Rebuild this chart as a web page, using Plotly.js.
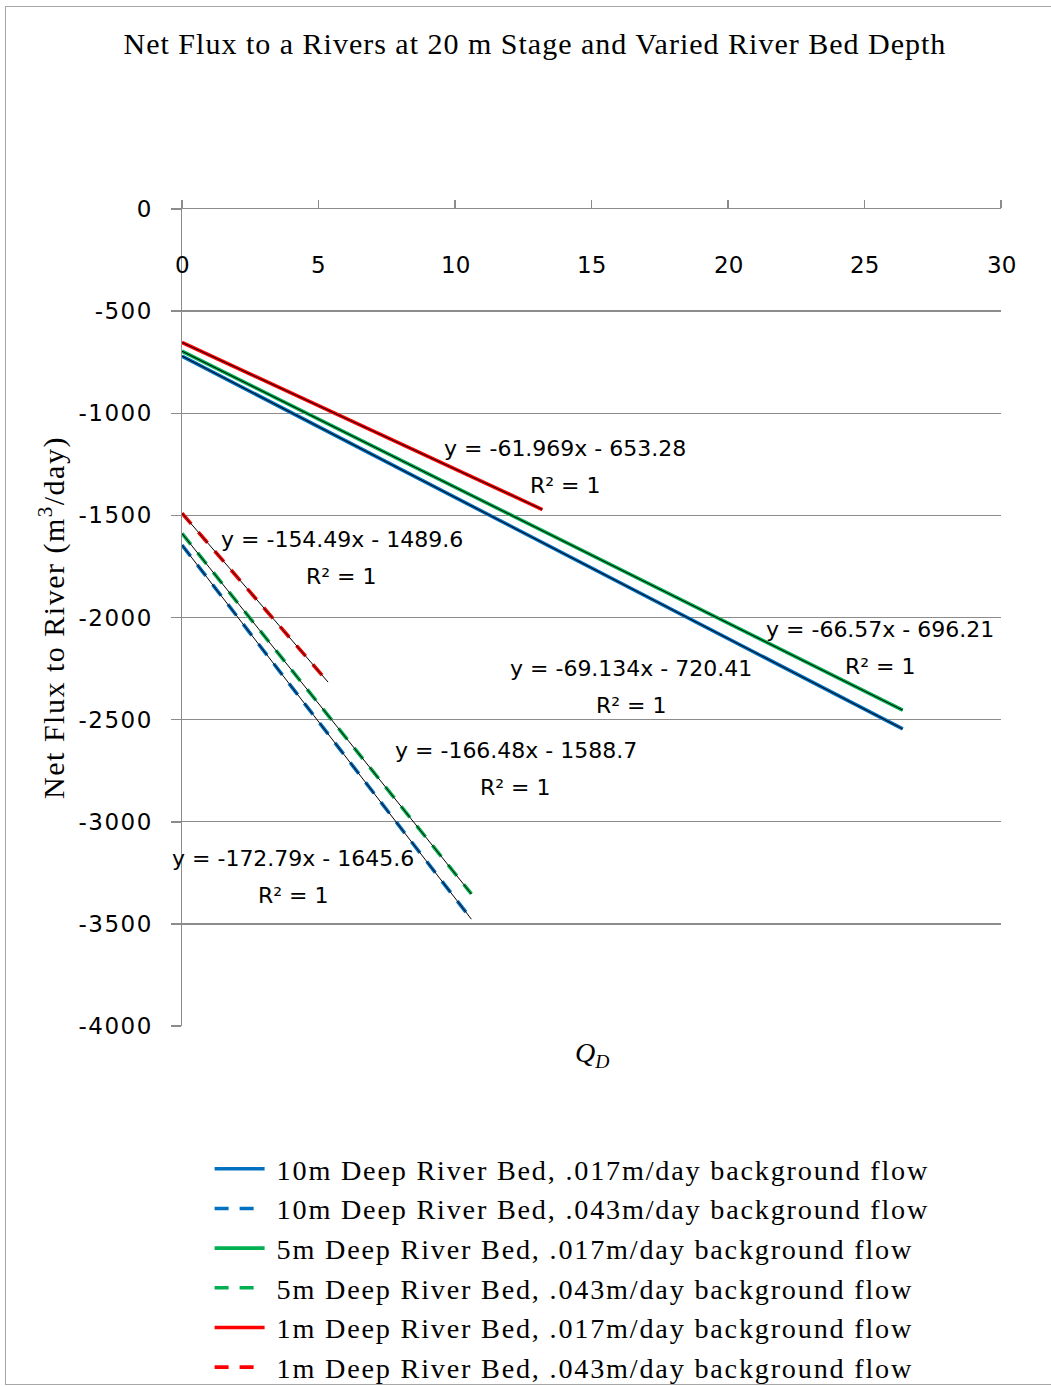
<!DOCTYPE html>
<html>
<head>
<meta charset="utf-8">
<script src="https://cdn.plot.ly/plotly-3.0.1.min.js"></script>
<style>
  html, body { margin: 0; padding: 0; background: #ffffff; }
  #wrap { position: relative; width: 1051px; height: 1387px; overflow: hidden; }
  #frame { position: absolute; left: 5px; top: 6px; width: 1100px; height: 1379px;
           border: 1.5px solid #a6a6a6; box-sizing: border-box; pointer-events: none; }
  #chart { position: absolute; left: 0; top: 0; width: 1051px; height: 1430px; }
  /* wider set text, like the spreadsheet rendering */
  #chart .gtitle { letter-spacing: 1px; }
  #chart .ytitle { letter-spacing: 1.5px; }
  #chart .legendtext { letter-spacing: 1.8px; transform: translateX(7px); }
  #chart .legend .scrollbox { clip-path: none !important; }
  #chart .ytick text { letter-spacing: 1.5px; }
</style>
</head>
<body>
<div id="wrap">
  <div id="chart"></div>
  <div id="frame"></div>
</div>
<script>
// Series names (legend order)
const seriesNames = [
  "10m Deep River Bed, .017m/day background flow",
  "10m Deep River Bed, .043m/day background flow",
  "5m Deep River Bed, .017m/day background flow",
  "5m Deep River Bed, .043m/day background flow",
  "1m Deep River Bed, .017m/day background flow",
  "1m Deep River Bed, .043m/day background flow"
];

// Q_D values (x) for each series
const x10m017 = [0, 26.4];
const x10m043 = [0, 10.6];
const x5m017  = [0, 26.4];
const x5m043  = [0, 10.6];
const x1m017  = [0, 13.2];
const x1m043  = [0, 5.35];

// Net flux to river (m3/day) for each series
const y10m017 = [-720.4, -2545.5];
const y10m043 = [-1645.6, -3477.2];
const y5m017  = [-696.2, -2453.6];
const y5m043  = [-1588.7, -3353.4];
const y1m017  = [-653.3, -1471.3];
const y1m043  = [-1489.6, -2316.2];

// Linear trendline coefficients: y = slope * x + intercept
const trendSlope     = [-69.134, -172.79, -66.57, -166.48, -61.969, -154.49];
const trendIntercept = [-720.41, -1645.6, -696.21, -1588.7, -653.28, -1489.6];

// Tick values and labels
const xTicks = [0, 5, 10, 15, 20, 25, 30];
const yTicks = [0, -500, -1000, -1500, -2000, -2500, -3000, -3500, -4000];
const yTickText = ["0", "-500", "-1000", "-1500", "-2000", "-2500", "-3000", "-3500", "-4000"];

const xs = [x10m017, x10m043, x5m017, x5m043, x1m017, x1m043];
const ys = [y10m017, y10m043, y5m017, y5m043, y1m017, y1m043];
const colors = ["#0070C0", "#0070C0", "#00B050", "#00B050", "#FF0000", "#FF0000"];
const dashes = ["solid", "14px,11px", "solid", "14px,11px", "solid", "14px,11px"];

// Equation label anchors (data coords) for each trendline
const labelPos = [
  [16.45, -2252], [4.07, -3178], [25.57, -2061],
  [12.23, -2653], [14.03, -1175], [5.86, -1616]
];

const traces = [];
for (let i = 0; i < seriesNames.length; i++) {
  traces.push({
    type: "scatter", mode: "lines",
    x: xs[i], y: ys[i], name: seriesNames[i],
    line: { color: colors[i], width: 3.6, dash: dashes[i] },
    hoverinfo: "skip"
  });
}
// Thin black trendlines drawn over each series
for (let i = 0; i < seriesNames.length; i++) {
  const xr = [Math.min(...xs[i]), Math.max(...xs[i])];
  traces.push({
    type: "scatter", mode: "lines",
    x: xr, y: xr.map(v => trendSlope[i] * v + trendIntercept[i]),
    showlegend: false,
    line: { color: "#000000", width: 1 },
    hoverinfo: "skip"
  });
}

function fmtEq(m, b) {
  const sb = b < 0 ? " - " + Math.abs(b) : " + " + b;
  return "y = " + m + "x" + sb;
}

const eqFont = { family: "DejaVu Sans", size: 22, color: "#000000" };
const tickFont = { family: "DejaVu Sans", size: 23, color: "#000000" };
const annotations = [];
labelPos.forEach((p, i) => {
  annotations.push({
    x: p[0], y: p[1], xref: "x", yref: "y",
    text: fmtEq(trendSlope[i], trendIntercept[i]),
    showarrow: false, font: eqFont
  });
  annotations.push({
    x: p[0], y: p[1], xref: "x", yref: "y", yshift: -37,
    text: "R² = 1", showarrow: false, font: eqFont
  });
});

// Q_D tick labels, set just below the axis line at the top of the plot
xTicks.forEach(v => {
  annotations.push({
    x: v, xref: "x", y: 0.9315, yref: "paper", yanchor: "middle",
    text: String(v), showarrow: false, font: tickFont
  });
});

// Horizontal axis title
annotations.push({
  xref: "paper", yref: "paper", x: 0.5, y: -0.035, yanchor: "middle",
  text: "<i>Q</i><sub><i>D</i></sub>", showarrow: false,
  font: { family: "Liberation Serif", size: 28, color: "#000000" }
});

const axisGrey = "#8c8c8c";

const layout = {
  width: 1051, height: 1430,
  margin: { l: 182, r: 50, t: 209, b: 404 },
  paper_bgcolor: "rgba(0,0,0,0)", plot_bgcolor: "#ffffff",
  showlegend: true,
  title: {
    text: "Net Flux to a Rivers at 20 m Stage and Varied River Bed Depth",
    xref: "container", x: 0.509, xanchor: "center",
    yref: "container", y: 1 - 43 / 1430, yanchor: "middle",
    font: { family: "Liberation Serif", size: 30, color: "#000000" }
  },
  // axis line and tick marks along Net Flux = 0
  xaxis: {
    range: [0, 30], side: "top", tickvals: xTicks, showticklabels: false,
    ticks: "outside", ticklen: 8, tickwidth: 1.5, tickcolor: axisGrey,
    showline: true, linecolor: axisGrey, linewidth: 1.5,
    showgrid: false, zeroline: false
  },
  yaxis: {
    range: [-4000, 0], tickvals: yTicks, ticktext: yTickText,
    ticks: "outside", ticklen: 10, tickwidth: 1.5, tickcolor: axisGrey,
    ticklabelstandoff: 13,
    showline: true, linecolor: axisGrey, linewidth: 1.5,
    showgrid: true, gridcolor: axisGrey, gridwidth: 1.3, zeroline: false,
    tickfont: tickFont,
    title: {
      text: "Net Flux to River (m<sup>3</sup>/day)", standoff: 12,
      font: { family: "Liberation Serif", size: 30, color: "#000000" }
    }
  },
  legend: {
    x: 0.0337, xanchor: "left", y: -0.1444, yanchor: "top",
    bgcolor: "rgba(0,0,0,0)", itemwidth: 50, tracegroupgap: 0,
    font: { family: "Liberation Serif", size: 28.2, color: "#000000" }
  },
  annotations: annotations
};

Plotly.newPlot("chart", traces, layout, { displayModeBar: false, staticPlot: true });
</script>
</body>
</html>
